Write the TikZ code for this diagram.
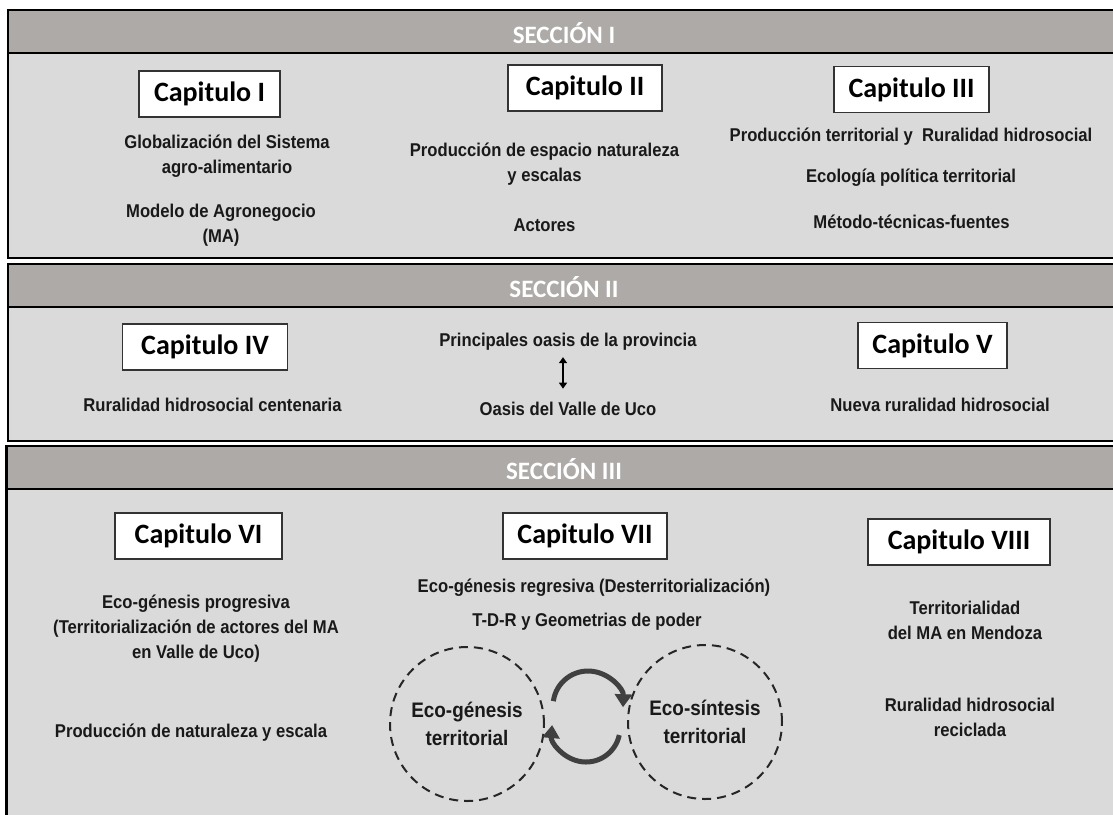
\documentclass[tikz,border=0pt]{standalone}
\usepackage{fontspec}
\newfontfamily\capfont{Carlito}
\newfontfamily\bodyfont[FakeStretch=0.9]{Liberation Sans}
\usetikzlibrary{arrows.meta}
\definecolor{headgray}{HTML}{ADAAA8}
\definecolor{bodygray}{HTML}{DADADA}

\begin{document}
\begin{tikzpicture}[x=1pt, y=1pt,
  sechead/.style={fill=headgray, draw=black, line width=2.5pt},
  secbody/.style={fill=bodygray, draw=black, line width=2.5pt},
  sectitle/.style={text=white, font=\capfont\bfseries\fontsize{25}{25}\selectfont},
  capbox/.style={draw=black!80, fill=white, line width=1.2pt, minimum height=46pt, font=\capfont\bfseries\fontsize{28}{30}\selectfont},
  txt/.style={align=center, text=black!90, font=\bodyfont\bfseries\fontsize{18.5}{25}\selectfont},
  ecocircle/.style={circle, draw=black!85, dash pattern=on 9pt off 6pt, line width=2pt, minimum size=154pt, align=center, text=black!90, font=\bodyfont\bfseries\fontsize{21}{28}\selectfont},
  cyclearrow/.style={draw=black!75, line width=5pt, -{Triangle[length=13pt,width=17pt]}},
  linkarrow/.style={black, line width=1.5pt, {Triangle[length=6pt,width=8pt]}-{Triangle[length=6pt,width=8pt]}}]
\useasboundingbox (0,0) rectangle (1113,-814);
\clip (0,0) rectangle (1113,-814);
% Seccion I
\filldraw[secbody] (8,-10) rectangle (1130,-258);
\filldraw[sechead] (8,-10) rectangle (1130,-53);
\node[sectitle] (s1) at (564,-33) {SECCIÓN I};
\node[capbox, minimum width=141pt] (cap1) at (209.5,-94) {Capitulo I};
\node[capbox, minimum width=154pt] (cap2) at (585,-88) {Capitulo II};
\node[capbox, minimum width=155pt] (cap3) at (911.5,-89.5) {Capitulo III};
\node[txt] (t11) at (227,-156.5) {Globalización del Sistema\\agro-alimentario};
\node[txt] (t12) at (221,-225.5) {Modelo de Agronegocio\\(MA)};
\node[txt] (t13) at (544.5,-164.5) {Producción de espacio naturaleza\\y escalas};
\node[txt] (t14) at (544.5,-225) {Actores};
\node[txt] (t15) at (911,-137) {Producción territorial y\ \ Ruralidad hidrosocial};
\node[txt] (t16) at (911,-178) {Ecología política territorial};
\node[txt] (t17) at (911.5,-222) {Método-técnicas-fuentes};
% Seccion II
\filldraw[secbody] (8,-264) rectangle (1130,-441);
\filldraw[sechead] (8,-264) rectangle (1130,-307);
\node[sectitle] (s2) at (564,-287) {SECCIÓN II};
\node[capbox, minimum width=165pt] (cap4) at (205,-347) {Capitulo IV};
\node[capbox, minimum width=149pt] (cap5) at (932.5,-345.5) {Capitulo V};
\node[txt] (t21) at (212.5,-405) {Ruralidad hidrosocial centenaria};
\node[txt] (t22) at (568,-342) {Principales oasis de la provincia};
\node[txt] (t23) at (568,-409) {Oasis del Valle de Uco};
\node[txt] (t24) at (940,-405) {Nueva ruralidad hidrosocial};
\draw[linkarrow, shorten <=3pt, shorten >=10pt] ([xshift=-5pt]t22.south) -- ([xshift=-5pt]t23.north);
% Seccion III
\filldraw[secbody] (6.5,-446) rectangle (1130,-830);
\filldraw[sechead] (6.5,-446) rectangle (1130,-489);
\node[sectitle] (s3) at (564,-469) {SECCIÓN III};
\node[capbox, minimum width=167pt] (cap6) at (198.5,-536) {Capitulo VI};
\node[capbox, minimum width=164pt] (cap7) at (585,-536) {Capitulo VII};
\node[capbox, minimum width=182pt] (cap8) at (959,-542) {Capitulo VIII};
\node[txt] (t31) at (196,-629) {Eco-génesis progresiva\\(Territorialización de actores del MA\\en Valle de Uco)};
\node[txt] (t32) at (191,-733) {Producción de naturaleza y escala};
\node[txt] (t33) at (594,-588) {Eco-génesis regresiva (Desterritorialización)};
\node[txt] (t34) at (587,-622) {T-D-R y Geometrias de poder};
\node[ecocircle] (eco1) at (467,-724) {Eco-génesis\\territorial};
\node[ecocircle] (eco2) at (705,-722) {Eco-síntesis\\territorial};
\coordinate (giro1) at (588,-706);
\coordinate (giro2) at (586,-728);
\draw[cyclearrow] ([shift={(172:35)}]giro1) arc[start angle=172, end angle=-2, radius=35];
\draw[cyclearrow] ([shift={(-12:34)}]giro2) arc[start angle=-12, end angle=-185, radius=34];
\node[txt] (t35) at (965,-620.5) {Territorialidad\\del MA en Mendoza};
\node[txt] (t36) at (970,-717) {Ruralidad hidrosocial\\reciclada};
\end{tikzpicture}
\end{document}
